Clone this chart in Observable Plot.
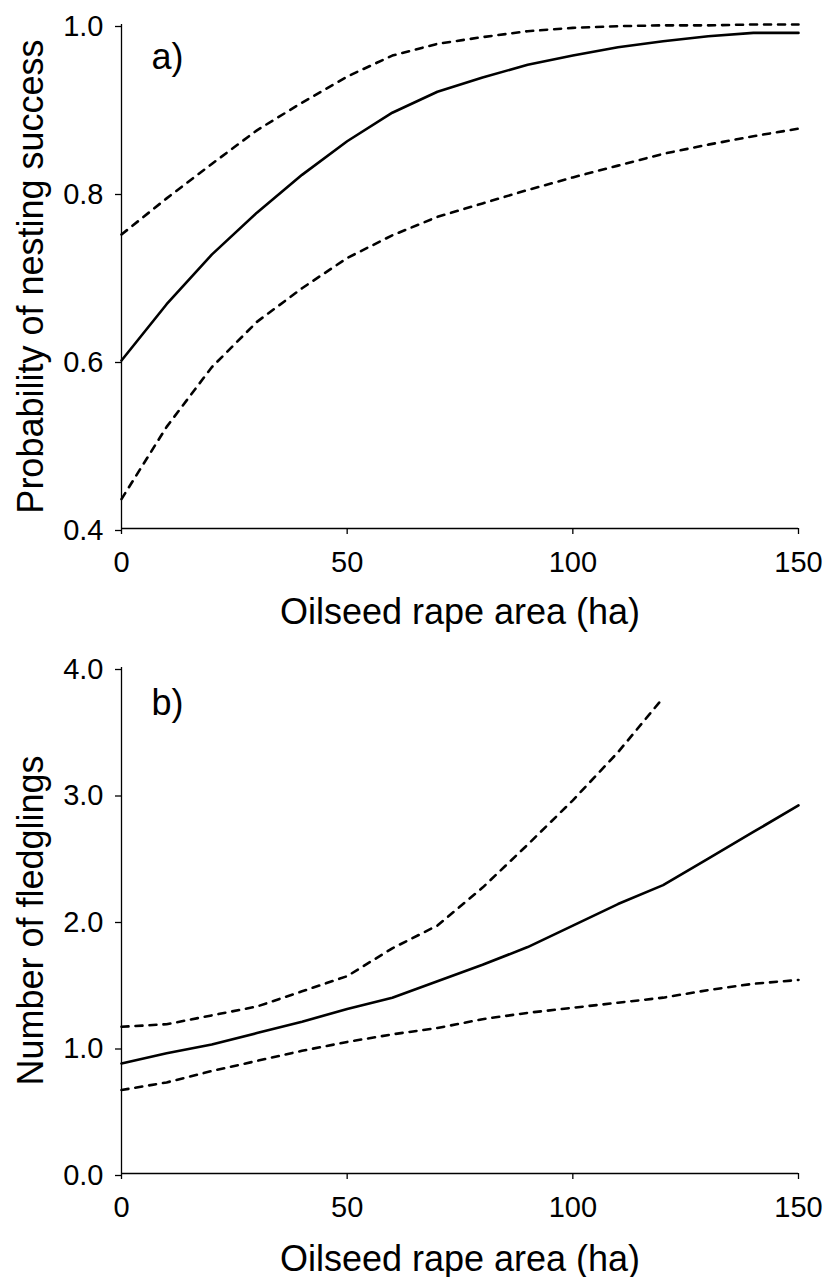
<!DOCTYPE html>
<html>
<head>
<meta charset="utf-8">
<script src="https://cdn.jsdelivr.net/npm/d3@7"></script>
<script src="https://cdn.jsdelivr.net/npm/@observablehq/plot@0.6"></script>
<style>
  html, body { margin: 0; padding: 0; background: #fff; }
  #chart svg { display: block; }
</style>
</head>
<body>
<div id="chart"></div>
<script>
// Oilseed rape area (ha)
const area = [0, 10, 20, 30, 40, 50, 60, 70, 80, 90, 100, 110, 120, 130, 140, 150];

// Panel a) probability of nesting success
const successFit   = [0.600, 0.667, 0.726, 0.776, 0.821, 0.861, 0.895, 0.920, 0.937, 0.952, 0.963, 0.973, 0.980, 0.986, 0.990, 0.990];
const successUpper = [0.750, 0.793, 0.834, 0.874, 0.907, 0.938, 0.963, 0.977, 0.985, 0.992, 0.996, 0.998, 0.999, 0.999, 1.000, 1.000];
const successLower = [0.435, 0.521, 0.592, 0.646, 0.686, 0.722, 0.749, 0.771, 0.787, 0.803, 0.818, 0.832, 0.846, 0.857, 0.867, 0.876];

// Panel b) number of fledglings
const fledgFit   = [0.87, 0.95, 1.02, 1.11, 1.20, 1.30, 1.39, 1.52, 1.65, 1.79, 1.96, 2.13, 2.28, 2.49, 2.70, 2.91];
const fledgUpper = [1.16, 1.18, 1.25, 1.32, 1.44, 1.56, 1.78, 1.96, 2.26, 2.60, 2.95, 3.33, 3.76];
const fledgLower = [0.66, 0.72, 0.81, 0.89, 0.97, 1.04, 1.10, 1.15, 1.22, 1.27, 1.31, 1.35, 1.39, 1.45, 1.50, 1.53];

const xTicks = [0, 50, 100, 150];
const yTicksA = [0.4, 0.6, 0.8, 1.0];
const yTicksB = [0, 1, 2, 3, 4];
const xTitle = "Oilseed rape area (ha)";
const yTitleA = "Probability of nesting success";
const yTitleB = "Number of fledglings";
const panelA = "a)";
const panelB = "b)";

const FONT = "'Liberation Sans', Arial, sans-serif";

function panel({fit, upper, lower, yDomain, yTicks, yTitle, label, labelDy, height, marginTop, marginBottom, xTitleDy}) {
  const lineOpts = {x: (d, i) => area[i], y: d => d};
  return Plot.plot({
    width: 830,
    height,
    marginLeft: 121,
    marginRight: 32,
    marginTop,
    marginBottom,
    style: {fontFamily: FONT, fontSize: "29px", color: "#000", background: "#fff", overflow: "visible"},
    x: {domain: [0, 150]},
    y: {domain: yDomain},
    marks: [
      Plot.ruleX([0], {y1: yDomain[0], y2: yDomain[1], stroke: "#000", strokeWidth: 1.3}),
      Plot.ruleY([yDomain[0]], {x1: 0, x2: 150, stroke: "#000", strokeWidth: 1.3}),
      Plot.axisX({ticks: xTicks, tickSize: 6, tickPadding: 17, fontSize: 29, label: null, strokeWidth: 1.3, tickFormat: d => String(d)}),
      Plot.axisY({ticks: yTicks, tickSize: 6, tickPadding: 12, fontSize: 29, label: null, strokeWidth: 1.3, tickFormat: d3.format(".1f"), dy: 2}),
      Plot.line(lower, {...lineOpts, stroke: "#000", strokeWidth: 2.6, strokeDasharray: "7,7"}),
      Plot.line(upper, {...lineOpts, stroke: "#000", strokeWidth: 2.6, strokeDasharray: "7,7"}),
      Plot.line(fit, {...lineOpts, stroke: "#000", strokeWidth: 2.6}),
      Plot.text([label], {text: d => d, frameAnchor: "top-left", textAnchor: "start", lineAnchor: "bottom", dx: 30, dy: labelDy, fontSize: 36, fill: "#000"}),
      Plot.text([xTitle], {text: d => d, frameAnchor: "bottom", textAnchor: "middle", lineAnchor: "bottom", dy: xTitleDy, fontSize: 36, fill: "#000"}),
      Plot.text([yTitle], {text: d => d, frameAnchor: "left", textAnchor: "middle", lineAnchor: "bottom", rotate: -90, dx: -79, fontSize: 36, fill: "#000"})
    ]
  });
}

const chart = document.getElementById("chart");
chart.appendChild(panel({
  fit: successFit, upper: successUpper, lower: successLower,
  yDomain: [0.4, 1.0], yTicks: yTicksA, yTitle: yTitleA, label: panelA, labelDy: 44,
  height: 638, marginTop: 24, marginBottom: 110, xTitleDy: 95
}));
chart.appendChild(panel({
  fit: fledgFit, upper: fledgUpper, lower: fledgLower,
  yDomain: [0, 4], yTicks: yTicksB, yTitle: yTitleB, label: panelB, labelDy: 47,
  height: 639, marginTop: 29, marginBottom: 104, xTitleDy: 97
}));
</script>
</body>
</html>
